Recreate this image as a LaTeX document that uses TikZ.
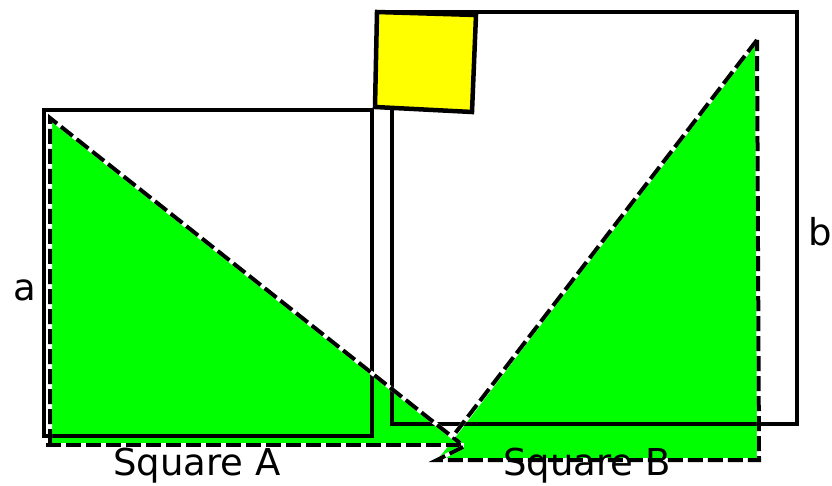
\documentclass[tikz,border=0pt]{standalone}
\usepackage{fontspec}
\setmainfont{DejaVu Sans}
\usetikzlibrary{calc}
\definecolor{brightgreen}{HTML}{00FF00}
\definecolor{flagyellow}{HTML}{FFFF00}
\tikzset{
  edgeline/.style={line width=4.5pt,line join=miter},
  cutline/.style={line width=4pt,dash pattern=on 15pt off 5pt,
    preaction={draw,white,line width=4pt,solid}},
  sidelabel/.style={font=\fontsize{37}{40}\selectfont,inner sep=0pt}
}

\begin{document}
\begin{tikzpicture}[x=1pt,y=-1pt]
    \useasboundingbox (0,0) rectangle (832,486);
    % green halves
    \fill[brightgreen] (48,116) -- (462,444) -- (48,444) -- cycle;
    \fill[brightgreen] (757,40) -- (455,438) -- (437,460) -- (759,460) -- cycle;
    % the two squares
    \draw[edgeline] (44,110) rectangle (372,436);
    \draw[edgeline] (392,108) -- (392,424) -- (797,424) -- (797,12) -- (377,12);
    \filldraw[edgeline,fill=flagyellow] (377,12) -- (476,15) -- (472,112) -- (375,107) -- cycle;
    % dashed cuts
    \draw[cutline] (50,444) -- (50,118) -- (460,443);
    \draw[cutline] (46,445) -- (464,445);
    \draw[cutline] (757,40) -- (453,436);
    \draw[cutline] (463,447) -- (437,460) -- (759,460) -- (757,40);
    \node[sidelabel] (sidea) at (25,290) {a};
    \node[sidelabel] (sideb) at (820,232) {b};
    \node[sidelabel,anchor=base] (labela) at (197,475) {Square A};
    \node[sidelabel,anchor=base] (labelb) at (587,475) {Square B};
\end{tikzpicture}
\end{document}
